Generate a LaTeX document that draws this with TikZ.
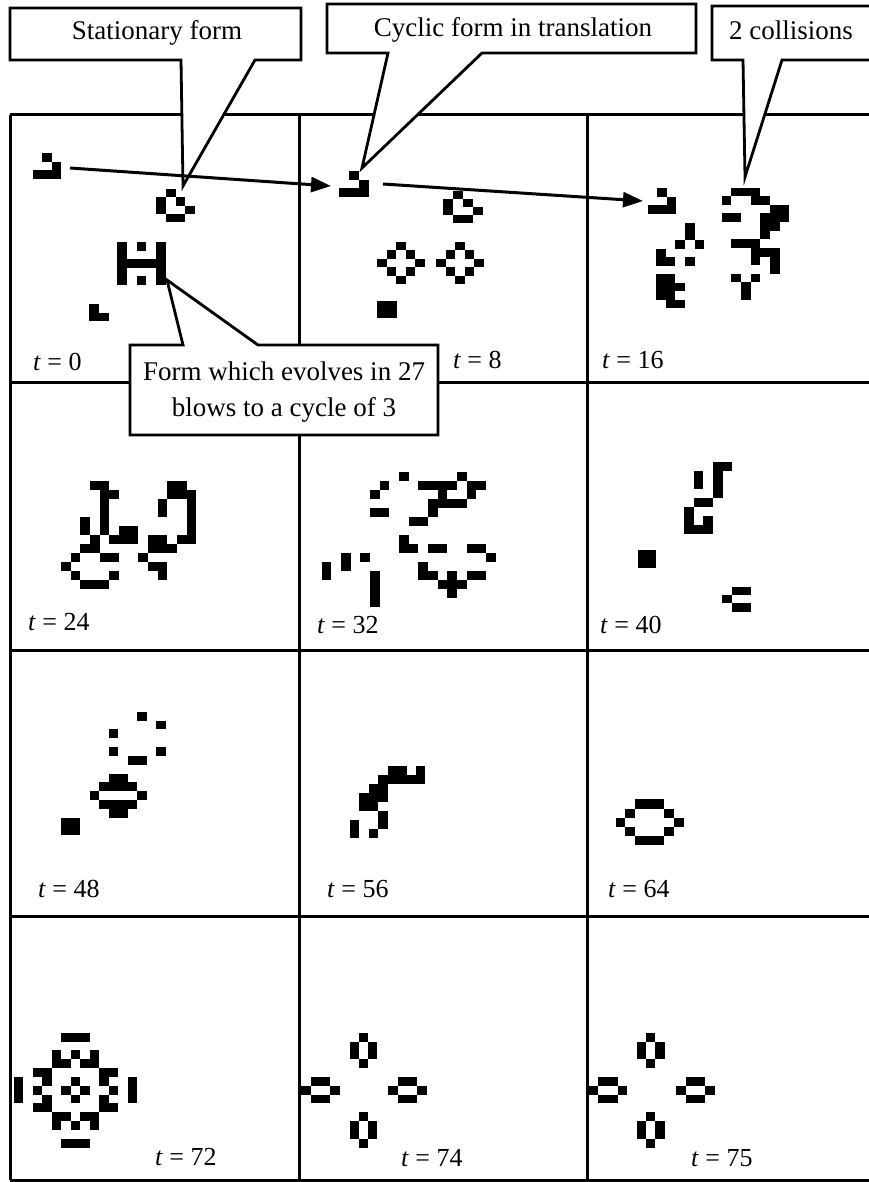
\documentclass[tikz,border=0pt]{standalone}
\usepackage{fontspec}
\setmainfont{Liberation Serif}
\usetikzlibrary{arrows.meta}
\newcommand{\lifepat}[5]{\foreach \cc/\rr in {#5}{\fill (#1+\cc*#3,#2+\rr*#4) rectangle ++(#3,#4);}}
\begin{document}
\begin{tikzpicture}[x=1pt,y=-1pt,
  gridline/.style={line width=3pt,black},
  callout/.style={fill=white,draw=black,line width=2.8pt,line join=miter},
  ctext/.style={font=\fontsize{27}{32}\selectfont,anchor=base,inner sep=0pt},
  tlabel/.style={font=\fontsize{26}{30}\selectfont,anchor=base west,inner sep=0pt},
  trajectory/.style={line width=3pt,-{Triangle[length=20pt,width=15pt]}}]
\useasboundingbox (0,0) rectangle (869,1182);
\clip (0,0) rectangle (869,1182);
\fill[white] (0,0) rectangle (869,1182);
% grid
\draw[gridline] (10,115) -- (869,115);
\draw[gridline] (10,382) -- (869,382);
\draw[gridline] (10,650) -- (869,650);
\draw[gridline] (10,916) -- (869,916);
\draw[gridline] (10,1180) -- (869,1180);
\draw[gridline] (10,115) -- (10,1180);
\draw[gridline] (299,115) -- (299,1180);
\draw[gridline] (587,115) -- (587,1180);
% t = 0
\lifepat{33}{153}{9.3}{8.7}{1/0,2/1,0/2,1/2,2/2}
\lifepat{156}{189}{9.8}{8.3}{1/0,0/1,2/1,0/2,3/2,1/3,2/3}
\lifepat{117}{242}{9.8}{8.5}{0/0,2/0,4/0,0/1,4/1,0/2,1/2,2/2,3/2,4/2,0/3,4/3,0/4,2/4,4/4}
\lifepat{89}{304}{10}{8.5}{0/0,0/1,1/1}
% t = 8
\lifepat{339}{171}{10}{8.7}{1/0,2/1,0/2,1/2,2/2}
\lifepat{443}{191}{10}{8.0}{1/0,0/1,2/1,0/2,3/2,1/3,2/3}
\lifepat{377}{242}{9.6}{8.4}{2/0,1/1,3/1,0/2,4/2,1/3,3/3,2/4}
\lifepat{436}{242}{9.6}{8.4}{2/0,1/1,3/1,0/2,4/2,1/3,3/3,2/4}
\lifepat{377}{301}{10}{8.5}{0/0,1/0,0/1,1/1}
% t = 16
\lifepat{648}{188}{9.3}{8.7}{1/0,2/1,0/2,1/2,2/2}
\lifepat{656}{223.3}{9.67}{8.5}{3/0,3/1,2/2,4/2,0/3,0/4,1/4,3/4,0/6,1/6,0/7,1/7,2/7,0/8,1/8,1/9,2/9}
\lifepat{721.7}{187.7}{9.67}{8.6}{1/0,2/0,3/0,0/1,3/1,4/1,5/2,6/2,0/3,1/3,4/3,5/3,6/3,4/4,5/4,4/5,1/6,2/6,3/6,3/7,4/7,5/7,3/8,5/8,5/9,1/10,3/10,2/11,2/12}
% t = 24
\lifepat{61}{481}{9.67}{9}{3/0,4/0,4/1,5/1,4/2,4/3,2/4,4/4,2/5,4/5,6/5,7/5,3/6,5/6,6/6,7/6,2/7,3/7,1/8,4/8,5/8,0/9,1/10,5/10,2/11,3/11,4/11,
  11/0,12/0,11/1,12/1,13/1,10/2,13/2,10/3,13/3,13/4,13/5,9/6,10/6,12/6,13/6,9/7,10/7,11/7,8/8,9/9,10/9,10/10}
% t = 32
\lifepat{321.7}{471.7}{9.67}{9}{8/0,14/0,6/1,10/1,11/1,12/1,13/1,15/1,16/1,5/2,12/2,15/2,11/3,12/3,13/3,14/3,5/4,6/4,11/4,9/5,10/5,
  8/7,8/8,9/8,11/8,12/8,15/8,16/8,2/9,4/9,17/9,0/10,2/10,10/10,0/11,5/11,10/11,11/11,13/11,15/11,16/11,5/12,12/12,13/12,14/12,5/13,13/13,5/14}
% t = 40
\lifepat{684}{462.3}{9.67}{9}{3/0,4/0,1/1,3/1,1/2,3/2,3/3,1/4,2/4,0/5,0/6,2/6,0/7,1/7,2/7}
\lifepat{637.7}{550}{9.2}{9.2}{0/0,1/0,0/1,1/1}
\lifepat{721.7}{586.7}{9.8}{8.3}{1/0,2/0,0/1,1/2,2/2}
% t = 48
\lifepat{61}{711.7}{9.5}{8.83}{8/0,10/1,5/2,5/4,10/4,7/5,8/5,5/7,6/7,4/8,5/8,6/8,7/8,3/9,8/9,4/10,5/10,6/10,7/10,5/11,6/11,0/12,1/12,0/13,1/13}
% t = 56
\lifepat{350}{765.7}{9.43}{9}{4/0,5/0,7/0,3/1,4/1,5/1,6/1,7/1,2/2,3/2,1/3,2/3,3/3,1/4,2/4,3/5,0/6,3/6,0/7,2/7}
% t = 64
\lifepat{615.7}{799.3}{9.7}{9.2}{2/0,3/0,4/0,1/1,5/1,0/2,6/2,1/3,5/3,2/4,3/4,4/4}
% t = 72
\lifepat{13.5}{1032.7}{9.5}{8.83}{5/0,6/0,7/0,4/2,6/2,8/2,4/3,5/3,7/3,8/3,
  5/12,6/12,7/12,4/10,6/10,8/10,4/9,5/9,7/9,8/9,
  0/5,0/6,0/7,2/4,2/6,2/8,3/4,3/5,3/7,3/8,
  12/5,12/6,12/7,10/4,10/6,10/8,9/4,9/5,9/7,9/8,
  6/5,5/6,7/6,6/7}
% t = 74
\lifepat{349.8}{1032.7}{9.2}{8.9}{1/0,0/1,2/1,0/2,2/2,1/3}
\lifepat{349.8}{1112.3}{9.2}{8.9}{1/0,0/1,2/1,0/2,2/2,1/3}
\lifepat{301}{1076.7}{9.7}{8.9}{1/0,2/0,0/1,3/1,1/2,2/2}
\lifepat{387.9}{1076.7}{9.7}{8.9}{1/0,2/0,0/1,3/1,1/2,2/2}
% t = 75
\lifepat{637}{1032.7}{9.2}{8.9}{1/0,0/1,2/1,0/2,2/2,1/3}
\lifepat{637}{1112.3}{9.2}{8.9}{1/0,0/1,2/1,0/2,2/2,1/3}
\lifepat{588.4}{1076.7}{9.7}{8.9}{1/0,2/0,0/1,3/1,1/2,2/2}
\lifepat{675.9}{1076.7}{9.7}{8.9}{1/0,2/0,0/1,3/1,1/2,2/2}
% time labels
\node[tlabel] (l0) at (33,370) {\textit{t} = 0};
\node[tlabel] (l8) at (453,368) {\textit{t} = 8};
\node[tlabel] (l16) at (602,368) {\textit{t} = 16};
\node[tlabel] (l24) at (28,630) {\textit{t} = 24};
\node[tlabel] (l32) at (317,633) {\textit{t} = 32};
\node[tlabel] (l40) at (600,633) {\textit{t} = 40};
\node[tlabel] (l48) at (38,897) {\textit{t} = 48};
\node[tlabel] (l56) at (327,897) {\textit{t} = 56};
\node[tlabel] (l64) at (608,897) {\textit{t} = 64};
\node[tlabel] (l72) at (155,1165) {\textit{t} = 72};
\node[tlabel] (l74) at (401,1166) {\textit{t} = 74};
\node[tlabel] (l75) at (691,1166) {\textit{t} = 75};
% callouts
\draw[callout] (10,8) -- (301,8) -- (301,60) -- (255,60) -- (183,186) -- (181,60) -- (10,60) -- cycle;
\node[ctext] (cs) at (157,40) {Stationary form};
\draw[callout] (327,4) -- (696,4) -- (696,53) -- (482,53) -- (362,168) -- (388,53) -- (327,53) -- cycle;
\node[ctext] (cc) at (513,37) {Cyclic form in translation};
\draw[callout] (712,6) -- (880,6) -- (880,60) -- (782,60) -- (745,177) -- (743,60) -- (712,60) -- cycle;
\node[ctext] (ck) at (791,40) {2 collisions};
\draw[callout] (130,345) -- (183,345) -- (167,280) -- (258,345) -- (438,345) -- (438,435) -- (130,435) -- cycle;
\node[ctext] (cf1) at (284,380) {Form which evolves in 27};
\node[ctext] (cf2) at (284,416) {blows to a cycle of 3};
% glider trajectory
\coordinate (ga) at (70,168);
\coordinate (gb) at (331,186);
\coordinate (gc) at (383,184);
\coordinate (gd) at (643,201);
\draw[trajectory] (ga) -- (gb);
\draw[trajectory] (gc) -- (gd);
\end{tikzpicture}
\end{document}
